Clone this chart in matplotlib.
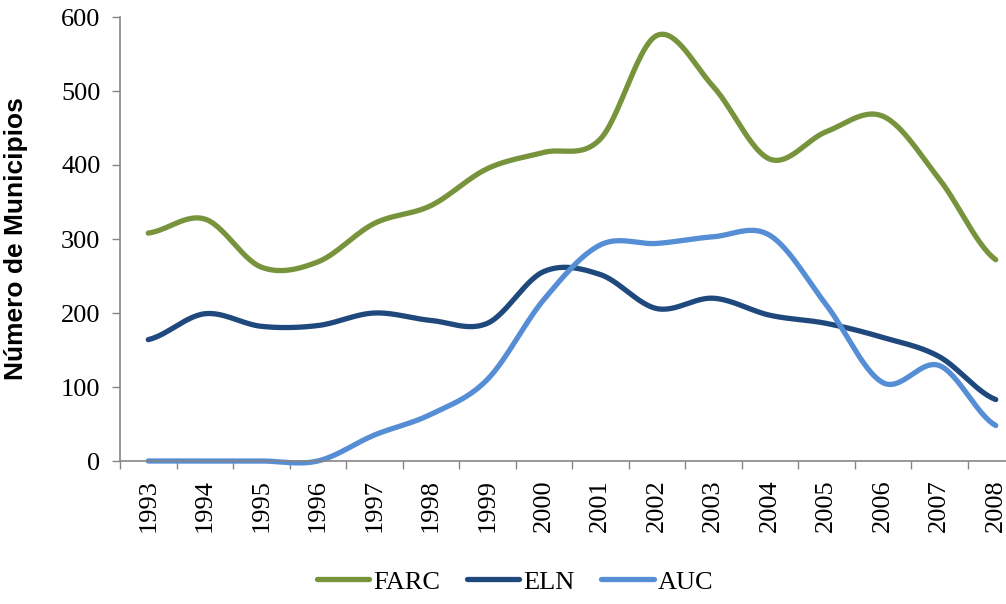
import matplotlib.pyplot as plt
import numpy as np

years = ["1993", "1994", "1995", "1996", "1997", "1998", "1999", "2000",
         "2001", "2002", "2003", "2004", "2005", "2006", "2007", "2008"]
farc = [308, 327, 262, 269, 321, 345, 395, 417, 435, 575, 506, 408, 445, 466, 381, 272]
eln = [164, 199, 182, 183, 200, 190, 186, 256, 252, 206, 220, 197, 186, 167, 141, 83]
auc = [0, 0, 0, 0, 35, 63, 110, 218, 292, 294, 303, 305, 211, 106, 129, 48]


def smooth(y, n=30):
    # Catmull-Rom style smoothing, like Excel's "smoothed line"
    y = np.asarray(y, dtype=float)
    m = np.zeros_like(y)
    m[1:-1] = (y[2:] - y[:-2]) / 2
    m[0] = (y[1] - y[0]) / 2
    m[-1] = (y[-1] - y[-2]) / 2
    xs, ys = [], []
    t = np.linspace(0, 1, n)
    h00 = 2 * t**3 - 3 * t**2 + 1
    h10 = t**3 - 2 * t**2 + t
    h01 = -2 * t**3 + 3 * t**2
    h11 = t**3 - t**2
    for i in range(len(y) - 1):
        xs.append(i + t)
        ys.append(h00 * y[i] + h10 * m[i] + h01 * y[i + 1] + h11 * m[i + 1])
    return np.concatenate(xs), np.concatenate(ys)


serif = "Liberation Serif"
fs = 19
fig = plt.figure(figsize=(10.06, 6.04), dpi=100)
ax = fig.add_axes([120 / 1006, 143 / 604, 904 / 1006, 444 / 604])

series = [("FARC", farc, "#77933C"), ("ELN", eln, "#1F497D"), ("AUC", auc, "#558ED5")]
for name, vals, col in series:
    sx, sy = smooth(vals)
    ax.plot(sx, sy, color=col, lw=3.8, solid_capstyle="round", label=name, clip_on=False)

ax.set_xlim(-0.5, 15.5)
ax.set_ylim(0, 600)
ax.set_yticks(range(0, 601, 100))
ax.set_xticks(range(len(years)))
ax.set_xticklabels(years, rotation=90, fontfamily=serif, fontsize=fs)
ax.set_xticks(np.arange(-0.5, 16, 1), minor=True)
ax.tick_params(axis="x", which="major", length=0, pad=13)
ax.tick_params(axis="x", which="minor", length=6, width=1, color="#868686", direction="out")
ax.tick_params(axis="y", length=6, width=1, color="#868686", direction="out", pad=8)
for lab in ax.get_yticklabels():
    lab.set_fontfamily(serif)
    lab.set_fontsize(fs)

for s in ["top", "right"]:
    ax.spines[s].set_visible(False)
for s in ["left", "bottom"]:
    ax.spines[s].set_color("#868686")
    ax.spines[s].set_linewidth(1.2)

ax.set_ylabel("Número de Municipios", fontfamily="Liberation Sans", fontweight="bold",
              fontsize=19)
ax.yaxis.set_label_coords(-92 / 904, 0.5)

fig.legend(loc="lower center", bbox_to_anchor=(0.512, -0.022), ncol=3, frameon=False,
           prop={"family": serif, "size": fs}, handlelength=2.0, handletextpad=0.15,
           columnspacing=1.0)

fig.savefig("out.png", dpi=100)
